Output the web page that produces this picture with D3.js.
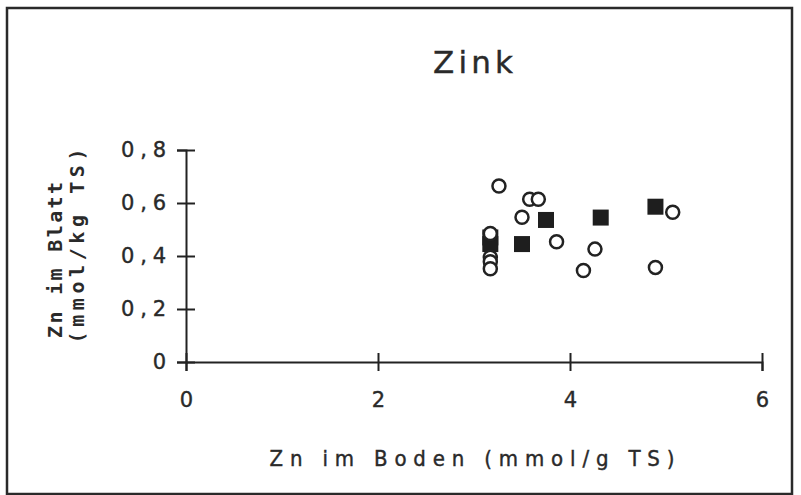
<!DOCTYPE html>
<html>
<head>
  <style>
    body { margin: 0; padding: 0; background: #fff; }
    text { fill: #2a2a2a; font-family: "DejaVu Sans", sans-serif; }
  </style>
</head>
<body>
  <div id="chart"></div>
  <script src="https://d3js.org/d3.v7.min.js"></script>
  <script>
    // data
    const openX = [3.26, 3.58, 3.67, 3.50, 5.07, 3.86, 4.26, 4.14, 4.89, 3.17, 3.17, 3.17, 3.17];
    const openY = [0.664, 0.614, 0.614, 0.546, 0.565, 0.454, 0.426, 0.345, 0.357, 0.485, 0.395, 0.378, 0.352];
    const filledX = [3.75, 4.32, 4.89, 3.50, 3.17, 3.17];
    const filledY = [0.536, 0.545, 0.586, 0.445, 0.47, 0.445];
    const xTicks = [0, 2, 4, 6];
    const yTicks = [0, 0.2, 0.4, 0.6, 0.8];
    const yTickLabels = ['0', '0,2', '0,4', '0,6', '0,8'];

    const W = 801, H = 495;
    const svg = d3.select('#chart').append('svg')
      .attr('width', W).attr('height', H);

    svg.append('rect')
      .attr('x', 7).attr('y', 8).attr('width', 785).attr('height', 486)
      .attr('fill', 'none').attr('stroke', '#2a2a2a').attr('stroke-width', 2.5);

    const x = d3.scaleLinear().domain([0, 6]).range([186, 762]);
    const y = d3.scaleLinear().domain([0, 0.8]).range([362, 150]);

    const xAxis = svg.append('g')
      .attr('transform', `translate(0,${y(0)})`)
      .call(d3.axisBottom(x).tickValues(xTicks).tickSize(9).tickPadding(21).tickFormat(d3.format('d')));
    xAxis.selectAll('.tick line').attr('y1', -9).attr('y2', 9);

    const yAxis = svg.append('g')
      .attr('transform', `translate(${x(0)},0)`)
      .call(d3.axisLeft(y).tickValues(yTicks).tickSize(9).tickPadding(11)
        .tickFormat((d, i) => yTickLabels[i]));
    yAxis.selectAll('.tick line').attr('x1', -9).attr('x2', 9);

    xAxis.attr('font-size', null).attr('font-family', null);
    yAxis.attr('font-size', null).attr('font-family', null);
    svg.selectAll('.domain, .tick line')
      .attr('stroke', '#222').attr('stroke-width', 2);
    svg.selectAll('.tick text')
      .style('font-size', '21px').attr('fill', '#2a2a2a')
      .attr('stroke', '#2a2a2a').attr('stroke-width', 0.4);
    yAxis.selectAll('.tick text')
      .filter((d, i) => yTickLabels[i].length > 1)
      .attr('textLength', 45).attr('lengthAdjust', 'spacing');

    // title
    svg.append('text')
      .attr('x', 473).attr('y', 73).attr('text-anchor', 'middle')
      .style('font-size', '31px').attr('textLength', 80).attr('lengthAdjust', 'spacing')
      .attr('stroke', '#2a2a2a').attr('stroke-width', 0.4)
      .text('Zink');

    // x label
    svg.append('text')
      .attr('x', 472).attr('y', 466).attr('text-anchor', 'middle')
      .style('font-family', '"DejaVu Sans Condensed", "DejaVu Sans", sans-serif')
      .style('font-size', '22px').attr('textLength', 405).attr('lengthAdjust', 'spacing')
      .attr('stroke', '#2a2a2a').attr('stroke-width', 0.4)
      .text('Zn im Boden (mmol/g TS)');

    // y label, two lines
    svg.append('text')
      .attr('transform', 'translate(62,260) rotate(-90)')
      .attr('text-anchor', 'middle').attr('font-weight', 'bold')
      .style('font-family', '"DejaVu Sans Mono", monospace')
      .style('font-size', '20px').attr('textLength', 156).attr('lengthAdjust', 'spacing')
      .text('Zn im Blatt');
    svg.append('text')
      .attr('transform', 'translate(84,246) rotate(-90)')
      .attr('text-anchor', 'middle').attr('font-weight', 'bold')
      .style('font-family', '"DejaVu Sans Mono", monospace')
      .style('font-size', '20px').attr('textLength', 195).attr('lengthAdjust', 'spacing')
      .text('(mmol/kg TS)');

    // filled squares
    const sq = 16;
    svg.append('g').selectAll('rect')
      .data(d3.range(filledX.length))
      .join('rect')
      .attr('x', i => x(filledX[i]) - sq / 2)
      .attr('y', i => y(filledY[i]) - sq / 2)
      .attr('width', sq).attr('height', sq)
      .attr('fill', '#1e1e1e');

    // open circles
    svg.append('g').selectAll('circle')
      .data(d3.range(openX.length))
      .join('circle')
      .attr('cx', i => x(openX[i]))
      .attr('cy', i => y(openY[i]))
      .attr('r', 6.5)
      .attr('fill', '#fff')
      .attr('stroke', '#222').attr('stroke-width', 2.5);
  </script>
</body>
</html>
